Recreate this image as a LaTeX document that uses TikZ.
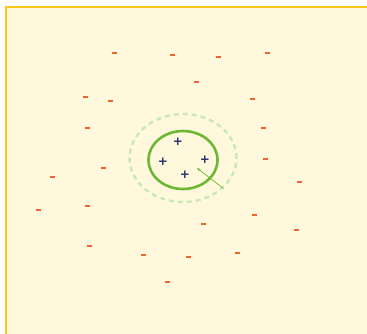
\documentclass[tikz,border=0pt]{standalone}
\usepackage{fontspec}
\setsansfont{DejaVu Sans}
\usetikzlibrary{arrows.meta, shapes.geometric}
\definecolor{cpaper}{HTML}{FFF8DC}
\definecolor{cframe}{HTML}{FFC61A}
\definecolor{cneg}{HTML}{F0642D}
\definecolor{cpos}{HTML}{1F2F6B}
\definecolor{cgreen}{HTML}{6CB834}
\definecolor{clight}{HTML}{C8E9B6}
\tikzset{
  every picture/.style={x=1pt, y=-1pt, font=\sffamily},
  negmark/.style={fill=cneg, inner sep=0pt, minimum width=5pt, minimum height=2pt},
  posmark/.style={text=cpos, inner sep=0pt, font=\sffamily\bfseries\fontsize{12}{12}\selectfont},
  margin/.style={draw=cgreen, ellipse, line width=2.6pt, inner sep=0pt},
  softmargin/.style={draw=clight, ellipse, line width=2.4pt, dash pattern=on 5pt off 4pt, inner sep=0pt},
  gap/.style={-{Stealth[length=4pt, width=3pt]}, draw=cgreen, line width=0.7pt},
}
\begin{document}
\begin{tikzpicture}
  \useasboundingbox (0,0) rectangle (367,333);
  % paper
  \fill[cpaper] (6,7) rectangle (370,336);
  \draw[cframe, line width=1.2pt] (6,336) -- (6,7) -- (370,7);
  % negative samples
  \foreach \p [count=\i] in {(114,53),(172,55),(218,57),(267,53),(196,82),(85,97),(110,101),(252,99),
      (87,128),(263,128),(103,168),(265,159),(52,177),(299,182),(38,210),(87,206),(254,215),
      (203,224),(296,230),(89,246),(143,255),(188,257),(237,253),(167,282)}
    \node[negmark] (neg\i) at \p {};
  % positive samples
  \foreach \p [count=\i] in {(178,142),(163,162),(205,160),(185,175)}
    \node[posmark] (pos\i) at \p {+};
  % margins
  \node[softmargin, minimum width=107pt, minimum height=88pt] (outer) at (183,158) {};
  \node[margin, minimum width=69pt, minimum height=58pt] (inner) at (183,160) {};
  \coordinate (tip) at (197,168);
  \draw[gap] (outer.-37) -- (tip);
\end{tikzpicture}
\end{document}
